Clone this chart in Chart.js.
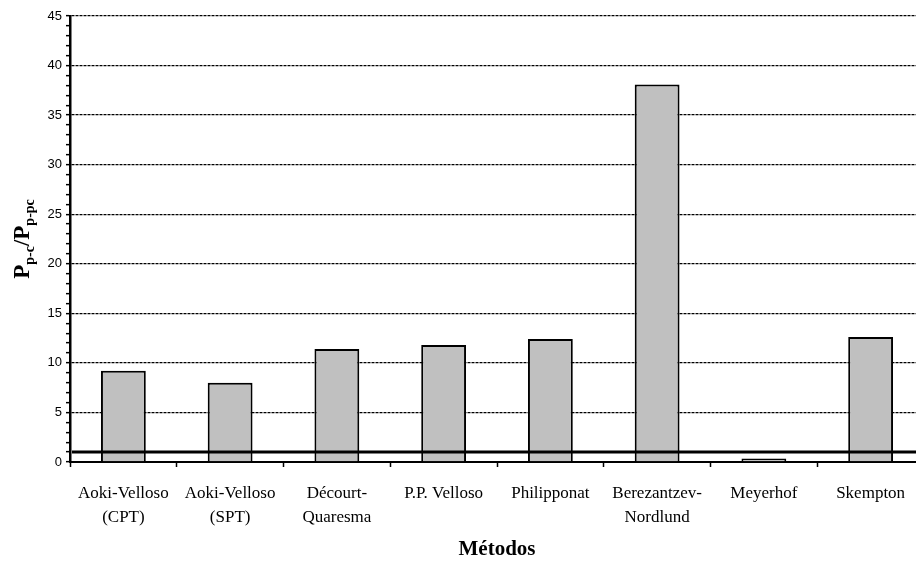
<!DOCTYPE html>
<html>
<head>
<meta charset="utf-8">
<script src="https://cdn.jsdelivr.net/npm/chart.js@4.4.1/dist/chart.umd.min.js"></script>
<style>
  html, body { margin: 0; padding: 0; background: #fff; overflow: hidden; }
  #wrap { width: 924px; height: 563px; }
</style>
</head>
<body>
<div id="wrap"><canvas id="chart-metodos" width="924" height="563"></canvas></div>
<script>
// categories (multi-line labels)
var metodos = [
    ["Aoki-Velloso", "(CPT)"],
    ["Aoki-Velloso", "(SPT)"],
    ["Décourt-", "Quaresma"],
    ["P.P. Velloso"],
    ["Philipponat"],
    ["Berezantzev-", "Nordlund"],
    ["Meyerhof"],
    ["Skempton"]
];
// Pp-c / Pp-pc ratio per method
var razao = [9.2, 8.0, 11.4, 11.8, 12.4, 38.1, 0.35, 12.6];
// reference line value
var linhaRef = 1;
var yMin = 0, yMax = 45, yMajor = 5;

// horizontal reference line at y = 1 across the plot
var refLinePlugin = {
    id: 'refLine',
    afterDatasetsDraw: function (chart) {
        var ctx = chart.ctx, y = chart.scales.y, a = chart.chartArea;
        var py = y.getPixelForValue(linhaRef);
        ctx.save();
        ctx.strokeStyle = '#000';
        ctx.lineWidth = 3;
        ctx.beginPath();
        ctx.moveTo(a.left + 2, py);
        ctx.lineTo(a.right, py);
        ctx.stroke();
        ctx.restore();
    }
};

// y title with subscripts: Pp-c/Pp-pc
var yTitlePlugin = {
    id: 'yTitle',
    afterDraw: function (chart) {
        var ctx = chart.ctx;
        var parts = [
            ['P', 'bold 23px "Liberation Serif"', 0],
            ['p-c', 'bold 14px "Liberation Serif"', 5],
            ['/P', 'bold 23px "Liberation Serif"', 0],
            ['p-pc', 'bold 14px "Liberation Serif"', 5]
        ];
        ctx.save();
        var total = 0;
        parts.forEach(function (p) { ctx.font = p[1]; total += ctx.measureText(p[0]).width; });
        ctx.translate(29, 239);
        ctx.rotate(-Math.PI / 2);
        ctx.fillStyle = '#000';
        ctx.textBaseline = 'alphabetic';
        var x = -total / 2;
        parts.forEach(function (p) {
            ctx.font = p[1];
            ctx.fillText(p[0], x, p[2]);
            x += ctx.measureText(p[0]).width;
        });
        ctx.restore();
    }
};

var ctx = document.getElementById('chart-metodos').getContext('2d');

new Chart(ctx, {
    type: 'bar',
    data: {
        labels: metodos,
        datasets: [{
            label: 'Pp-c/Pp-pc',
            data: razao,
            backgroundColor: '#c0c0c0',
            borderColor: '#000',
            borderWidth: 2,
            borderSkipped: 'bottom',
            categoryPercentage: 0.42,
            barPercentage: 1.0
        }]
    },
    options: {
        responsive: false,
        animation: false,
        devicePixelRatio: 1,
        layout: { padding: { top: 16, right: 0, left: 0, bottom: 0 } },
        plugins: {
            legend: { display: false },
            tooltip: { enabled: false }
        },
        scales: {
            x: {
                offset: true,
                grid: {
                    offset: true,
                    drawOnChartArea: false,
                    drawTicks: true,
                    tickLength: 5,
                    tickColor: '#000',
                    tickWidth: 1.5
                },
                border: { display: true, color: '#000', width: 2 },
                ticks: {
                    color: '#000',
                    padding: 15,
                    maxRotation: 0,
                    autoSkip: false,
                    font: { family: '"Liberation Serif"', size: 17, lineHeight: 1.4 }
                },
                title: {
                    display: true,
                    text: 'Métodos',
                    color: '#000',
                    padding: { top: 10, bottom: 1 },
                    font: { family: '"Liberation Serif"', size: 21, weight: 'bold' }
                },
                afterFit: function (scale) { scale.height = 101; }
            },
            y: {
                min: yMin,
                max: yMax,
                grid: {
                    color: function (c) {
                        var v = c.tick ? c.tick.value : 0;
                        return (v % yMajor === 0 && v > 0) ? '#000' : 'rgba(0,0,0,0)';
                    },
                    lineWidth: 1.3,
                    drawTicks: true,
                    tickLength: 4,
                    tickColor: '#000',
                    tickWidth: 1.5
                },
                border: { display: true, color: '#000', width: 2.5, dash: [3, 1] },
                ticks: {
                    stepSize: 1,
                    color: '#000',
                    padding: 4,
                    autoSkip: false,
                    font: { family: '"Liberation Sans"', size: 13 },
                    callback: function (v) { return v % yMajor === 0 ? v : ''; }
                },
                afterFit: function (scale) { scale.width = 70; }
            }
        }
    },
    plugins: [refLinePlugin, yTitlePlugin]
});
</script>
</body>
</html>
